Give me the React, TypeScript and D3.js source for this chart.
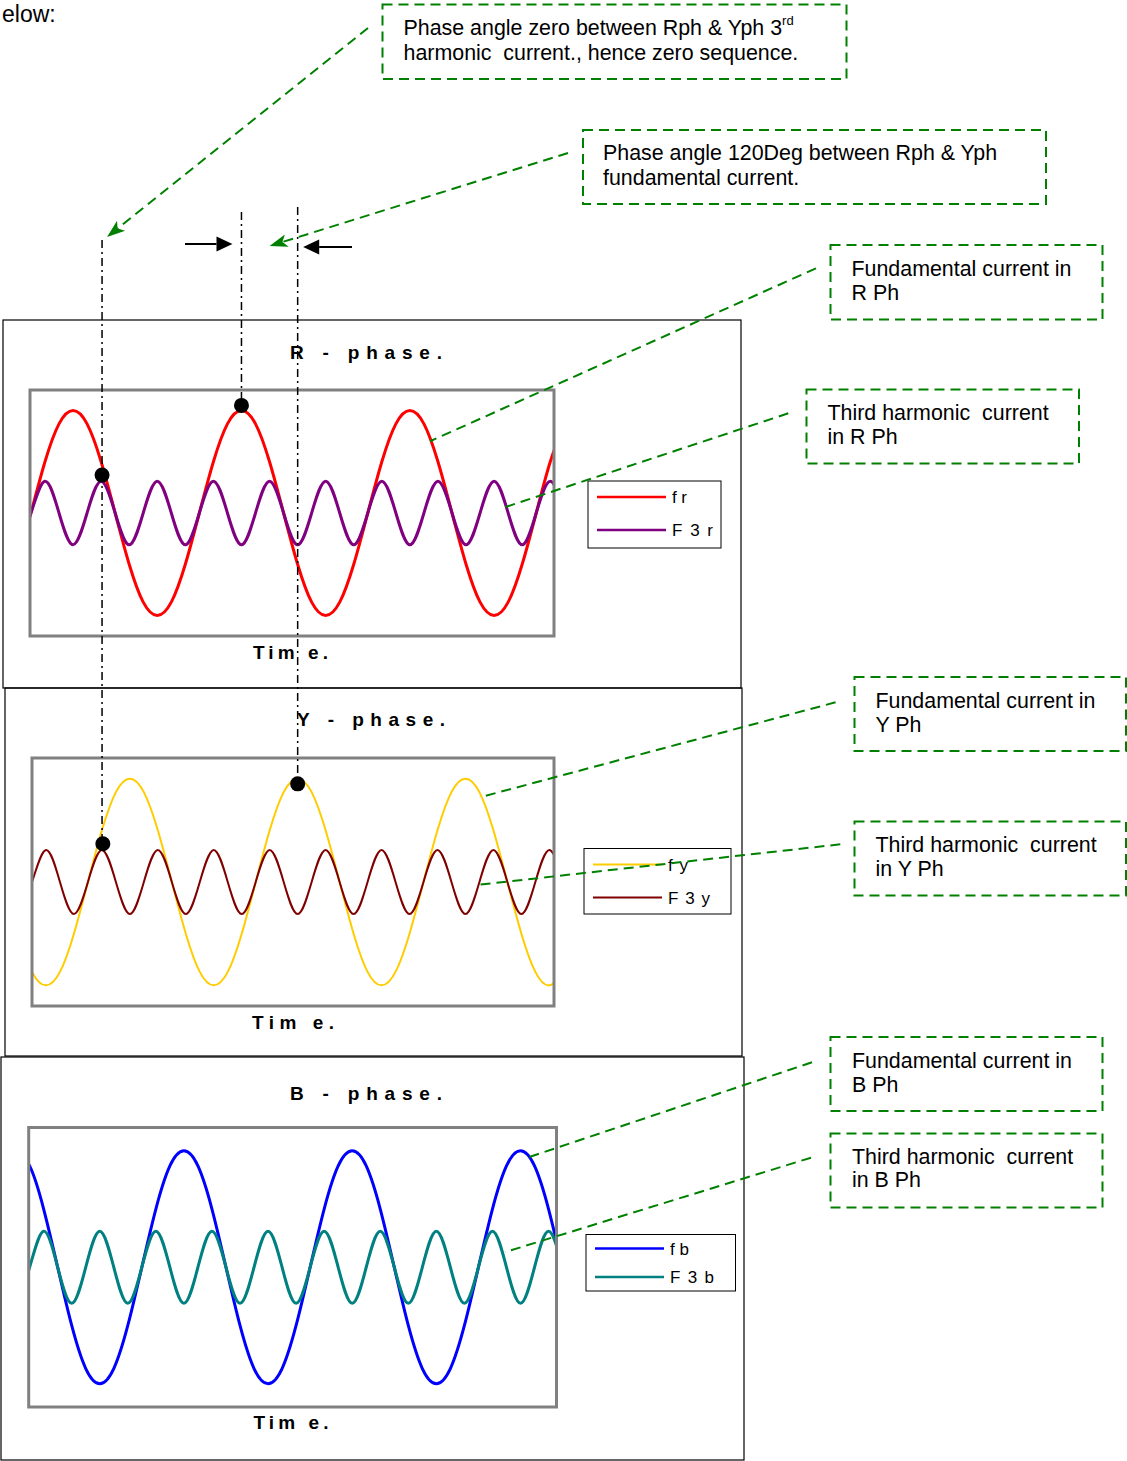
import React, { useRef, useEffect } from 'react';
import * as d3 from 'd3';

const width = 1127;
const height = 1461;

// sample grid in degrees of the fundamental (one sample every 30 deg)
const sampleDeg = d3.range(-30, 1141, 30);

// values, in units of the fundamental peak
const fundR = [-0.5,
  0, 0.5, 0.87, 1, 0.87, 0.5, 0, -0.5, -0.87, -1, -0.87, -0.5,
  0, 0.5, 0.87, 1, 0.87, 0.5, 0, -0.5, -0.87, -1, -0.87, -0.5,
  0, 0.5, 0.87, 1, 0.87, 0.5, 0, -0.5, -0.87, -1, -0.87, -0.5,
  0, 0.5, 0.87];
const fundY = [-0.5,
  -0.87, -1, -0.87, -0.5, 0, 0.5, 0.87, 1, 0.87, 0.5, 0, -0.5,
  -0.87, -1, -0.87, -0.5, 0, 0.5, 0.87, 1, 0.87, 0.5, 0, -0.5,
  -0.87, -1, -0.87, -0.5, 0, 0.5, 0.87, 1, 0.87, 0.5, 0, -0.5,
  -0.87, -1, -0.87];
const fundB = [1,
  0.87, 0.5, 0, -0.5, -0.87, -1, -0.87, -0.5, 0, 0.5, 0.87, 1,
  0.87, 0.5, 0, -0.5, -0.87, -1, -0.87, -0.5, 0, 0.5, 0.87, 1,
  0.87, 0.5, 0, -0.5, -0.87, -1, -0.87, -0.5, 0, 0.5, 0.87, 1,
  0.87, 0.5, 0];
const thirdR = [-0.31,
  0, 0.31, 0, -0.31, 0, 0.31, 0, -0.31, 0, 0.31, 0, -0.31,
  0, 0.31, 0, -0.31, 0, 0.31, 0, -0.31, 0, 0.31, 0, -0.31,
  0, 0.31, 0, -0.31, 0, 0.31, 0, -0.31, 0, 0.31, 0, -0.31,
  0, 0.31, 0];
const thirdY = [-0.31,
  0, 0.31, 0, -0.31, 0, 0.31, 0, -0.31, 0, 0.31, 0, -0.31,
  0, 0.31, 0, -0.31, 0, 0.31, 0, -0.31, 0, 0.31, 0, -0.31,
  0, 0.31, 0, -0.31, 0, 0.31, 0, -0.31, 0, 0.31, 0, -0.31,
  0, 0.31, 0];
const thirdB = [-0.31,
  0, 0.31, 0, -0.31, 0, 0.31, 0, -0.31, 0, 0.31, 0, -0.31,
  0, 0.31, 0, -0.31, 0, 0.31, 0, -0.31, 0, 0.31, 0, -0.31,
  0, 0.31, 0, -0.31, 0, 0.31, 0, -0.31, 0, 0.31, 0, -0.31,
  0, 0.31, 0];

const legendR = ['f r', 'F 3 r'];
const legendY = ['f y', 'F 3 y'];
const legendB = ['f b', 'F 3 b'];

const titles = ['R - phase.', 'Y - phase.', 'B - phase.'];
const axisTitle = 'Tim e.';

// black markers [deg, value]
const markR = [[152, 0.37], [450, 1.05]];
const markY = [[152, 0.37], [570, 0.95]];

const noteTexts = [
  ['Phase angle zero between Rph & Yph 3', 'harmonic  current., hence zero sequence.'],
  ['Phase angle 120Deg between Rph & Yph', 'fundamental current.'],
  ['Fundamental current in', 'R Ph'],
  ['Third harmonic  current', 'in R Ph'],
  ['Fundamental current in', 'Y Ph'],
  ['Third harmonic  current', 'in Y Ph'],
  ['Fundamental current in', 'B Ph'],
  ['Third harmonic  current', 'in B Ph'],
];
// where callouts 3..8 touch the curves [panel, deg, value]
const noteTargets = [[0, 853, 0.7], [0, 1009, 0.05], [1, 961, 0.82], [1, 953, -0.03], [2, 1064, 0.94], [2, 1017, 0.13]];

const green = '#008000';
const sans = '"Liberation Sans", Arial, sans-serif';
const narrow = '"Liberation Sans Narrow", "Arial Narrow", "Liberation Sans", Arial, sans-serif';

const panels = [
  { fund: fundR, third: thirdR, labels: legendR, marks: markR, colors: ['#ff0000', '#800080'], widths: [3, 3],
    frame: [3, 320, 741, 688], plot: [30, 390, 554, 636], t: [-2, 1118],
    title: [290, 359, 152], axis: [253, 658.5, 75], legend: [588, 481, 721, 548], rows: [497, 530], labelW: [15, 41] },
  { fund: fundY, third: thirdY, labels: legendY, marks: markY, colors: ['#ffcc00', '#800000'], widths: [2, 2],
    frame: [5, 688, 742, 1056], plot: [32, 758, 554, 1006], t: [0, 1120],
    title: [297, 725.5, 148], axis: [252, 1028.5, 82], legend: [584, 848.5, 731, 914], rows: [864.5, 897.5], labelW: [20, 42] },
  { fund: fundB, third: thirdB, labels: legendB, marks: [], colors: ['#0000ff', '#008080'], widths: [3, 3],
    frame: [1, 1057, 744, 1460], plot: [28.7, 1127.5, 556.5, 1407], t: [-2, 1127],
    title: [290, 1099.5, 152], axis: [253.5, 1428.5, 75], legend: [586, 1234.5, 735.5, 1291], rows: [1248.5, 1277], labelW: [19, 44] },
];

const noteLayout = [
  { box: [382.5, 4.5, 846.5, 79], tx: 403.5, base: [35, 59.5], from: [368, 28] },
  { box: [583, 130, 1046, 204], tx: 603, base: [160, 185], from: [568, 153] },
  { box: [830.5, 245, 1102.5, 319.5], tx: 851.5, base: [275.7, 300], from: [816, 268.3] },
  { box: [806.5, 389.5, 1079, 463.5], tx: 827.5, base: [420, 443.5], from: [788.3, 413.3] },
  { box: [854.5, 677, 1126, 751], tx: 875.5, base: [708.3, 731.7], from: [835.6, 702.3] },
  { box: [854.5, 821.5, 1126, 895.5], tx: 875.5, base: [851.7, 876], from: [840.3, 844.3] },
  { box: [830.5, 1037, 1102.5, 1111], tx: 852, base: [1068.3, 1091.7], from: [812, 1062.3] },
  { box: [830.5, 1133.5, 1102.5, 1207.5], tx: 852, base: [1164.3, 1187.3], from: [811, 1157.7] },
];

const arrowHead = (g, from, tip, len, half, fill, notch) => {
  const dx = tip[0] - from[0], dy = tip[1] - from[1];
  const d = Math.hypot(dx, dy);
  const ux = dx / d, uy = dy / d;
  const bx = tip[0] - ux * len, by = tip[1] - uy * len;
  const nx = tip[0] - ux * len * notch, ny = tip[1] - uy * len * notch;
  g.append('path')
    .attr('d', `M${tip[0]},${tip[1]}L${bx - uy * half},${by + ux * half}L${nx},${ny}L${bx + uy * half},${by - ux * half}Z`)
    .attr('fill', fill);
  return [nx, ny];
};

const PhaseChart = () => {
  const ref = useRef(null);

  useEffect(() => {
    const svg = d3.select(ref.current);
    svg.selectAll('*').remove();

    // tail of the sentence above the figure
    svg.append('text')
      .attr('x', 2).attr('y', 22)
      .style('font', `23px ${sans}`)
      .text('elow:');

    const scales = [];

    panels.forEach((p, pi) => {
      const g = svg.append('g');
      const [fx0, fy0, fx1, fy1] = p.frame;
      const [px0, py0, px1, py1] = p.plot;

      g.append('rect')
        .attr('x', fx0).attr('y', fy0)
        .attr('width', fx1 - fx0).attr('height', fy1 - fy0)
        .attr('fill', 'none').attr('stroke', '#000').attr('stroke-width', 1.2);

      const x = d3.scaleLinear().domain(p.t).range([px0, px1]);
      const y = d3.scaleLinear().domain([-1.2, 1.2]).range([py1, py0]);
      scales.push({ x, y });

      const clipId = `plot-clip-${pi}`;
      g.append('clipPath').attr('id', clipId)
        .append('rect')
        .attr('x', px0).attr('y', py0)
        .attr('width', px1 - px0).attr('height', py1 - py0);

      const line = d3.line()
        .x((d, i) => x(sampleDeg[i]))
        .y(d => y(d))
        .curve(d3.curveNatural);

      const curves = g.append('g').attr('clip-path', `url(#${clipId})`);
      [p.fund, p.third].forEach((series, si) => {
        curves.append('path')
          .attr('d', line(series))
          .attr('fill', 'none')
          .attr('stroke', p.colors[si])
          .attr('stroke-width', p.widths[si])
          .attr('stroke-linejoin', 'round');
      });

      g.append('rect')
        .attr('x', px0).attr('y', py0)
        .attr('width', px1 - px0).attr('height', py1 - py0)
        .attr('fill', 'none').attr('stroke', '#808080').attr('stroke-width', 3);

      // titles
      g.append('text')
        .attr('x', p.title[0]).attr('y', p.title[1])
        .attr('textLength', p.title[2]).attr('lengthAdjust', 'spacing')
        .style('font', `bold 19px ${narrow}`)
        .text(titles[pi]);

      g.append('text')
        .attr('x', p.axis[0]).attr('y', p.axis[1])
        .attr('textLength', p.axis[2]).attr('lengthAdjust', 'spacing')
        .style('font', `bold 19px ${narrow}`)
        .text(axisTitle);

      // legend
      const [lx0, ly0, lx1, ly1] = p.legend;
      g.append('rect')
        .attr('x', lx0).attr('y', ly0)
        .attr('width', lx1 - lx0).attr('height', ly1 - ly0)
        .attr('fill', '#fff').attr('stroke', '#000').attr('stroke-width', 1);

      const item = g.selectAll('g.legend-item')
        .data(p.labels)
        .join('g')
        .attr('class', 'legend-item')
        .attr('transform', (d, i) => `translate(${lx0}, ${p.rows[i]})`);

      item.append('line')
        .attr('x1', 9).attr('x2', 78)
        .attr('stroke', (d, i) => p.colors[i])
        .attr('stroke-width', (d, i) => (pi === 1 ? 2 : 2.5));

      item.append('text')
        .attr('x', 84).attr('dy', '0.36em')
        .attr('textLength', (d, i) => p.labelW[i])
        .attr('lengthAdjust', 'spacing')
        .style('font', `17px ${narrow}`)
        .text(d => d);
    });

    const mark = (pi, m) => [scales[pi].x(m[0]), scales[pi].y(m[1])];
    const r1 = mark(0, markR[0]);
    const r2 = mark(0, markR[1]);
    const y1 = mark(1, markY[0]);
    const y2 = mark(1, markY[1]);

    // dash-dot guides
    const guides = [
      [r1[0], 240, y1[1]],
      [r2[0], 212, r2[1]],
      [y2[0], 207, y2[1]],
    ];
    svg.append('g').selectAll('line')
      .data(guides)
      .join('line')
      .attr('x1', d => d[0]).attr('x2', d => d[0])
      .attr('y1', d => d[1]).attr('y2', d => d[2])
      .attr('stroke', '#000').attr('stroke-width', 1.5)
      .attr('stroke-dasharray', '8,4,2,4');

    svg.append('g').selectAll('circle')
      .data([r1, r2, y1, y2])
      .join('circle')
      .attr('cx', d => d[0]).attr('cy', d => d[1])
      .attr('r', 7.5).attr('fill', '#000');

    // black arrows showing the 120 deg gap
    const ag = svg.append('g');
    [[[185, 244], [r2[0] - 9, 244]], [[352, 247], [y2[0] + 5.5, 247]]].forEach(([from, tip]) => {
      const end = arrowHead(ag, from, tip, 16, 7.5, '#000', 1);
      ag.append('line')
        .attr('x1', from[0]).attr('y1', from[1])
        .attr('x2', end[0]).attr('y2', end[1])
        .attr('stroke', '#000').attr('stroke-width', 2);
    });

    // green notes
    const ng = svg.append('g');
    noteLayout.forEach((n, i) => {
      const [bx0, by0, bx1, by1] = n.box;
      ng.append('rect')
        .attr('x', bx0).attr('y', by0)
        .attr('width', bx1 - bx0).attr('height', by1 - by0)
        .attr('fill', 'none').attr('stroke', green).attr('stroke-width', 2)
        .attr('stroke-dasharray', '10,6');

      noteTexts[i].forEach((t, li) => {
        const txt = ng.append('text')
          .attr('x', n.tx).attr('y', n.base[li])
          .style('font', `21.4px ${sans}`)
          .style('white-space', 'pre')
          .text(t);
        if (i === 0 && li === 0) {
          txt.append('tspan').attr('dy', -10).style('font-size', '13px').text('rd');
        }
      });

      let tip;
      if (i === 0) tip = [r1[0] + 5, 237];
      else if (i === 1) tip = [(r2[0] + y2[0]) / 2, 246];
      else {
        const [pi, t, v] = noteTargets[i - 2];
        tip = [scales[pi].x(t), scales[pi].y(v)];
      }
      let end = tip;
      if (i < 2) end = arrowHead(ng, n.from, tip, 18, 6.5, green, 0.75);
      ng.append('line')
        .attr('x1', n.from[0]).attr('y1', n.from[1])
        .attr('x2', end[0]).attr('y2', end[1])
        .attr('stroke', green).attr('stroke-width', 2)
        .attr('stroke-dasharray', '10,6');
    });
  }, []);

  return (
    <svg
      ref={ref}
      width={width}
      height={height}
      style={{ position: 'absolute', left: 0, top: 0, display: 'block', background: '#fff' }}
    ></svg>
  );
};

export default function App() {
  return <PhaseChart />;
}
